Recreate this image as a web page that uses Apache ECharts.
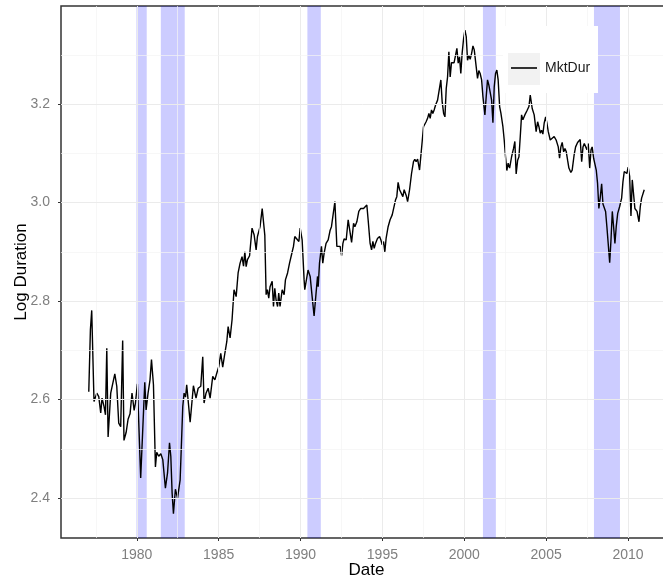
<!DOCTYPE html>
<html>
<head>
<meta charset="utf-8">
<script src="https://cdn.jsdelivr.net/npm/echarts@6/dist/echarts.min.js"></script>
<style>
  html, body { margin: 0; padding: 0; background: #ffffff; }
  #chart { width: 663px; height: 584px; }
</style>
</head>
<body>
<div id="chart"></div>
<script>
// Monthly-ish observations of log market duration (decimal year, value)
const dates = [
  1977.07, 1977.17, 1977.25, 1977.39, 1977.56, 1977.68, 1977.80, 1977.88, 1978.00, 1978.09,
  1978.17, 1978.25, 1978.41, 1978.53, 1978.66, 1978.78, 1978.90, 1979.02, 1979.14, 1979.22,
  1979.35, 1979.47, 1979.59, 1979.71, 1979.84, 1979.92, 1980.04, 1980.24, 1980.32, 1980.49,
  1980.57, 1980.69, 1980.81, 1980.90, 1981.02, 1981.06, 1981.14, 1981.22, 1981.34, 1981.47,
  1981.59, 1981.75, 1981.88, 1982.00, 1982.08, 1982.16, 1982.24, 1982.36, 1982.49, 1982.65,
  1982.81, 1982.89, 1982.98, 1983.05, 1983.26, 1983.46, 1983.62, 1983.75, 1983.83, 1983.91,
  1984.03, 1984.11, 1984.23, 1984.36, 1984.48, 1984.64, 1984.77, 1984.89, 1985.01, 1985.13,
  1985.25, 1985.38, 1985.50, 1985.58, 1985.70, 1985.82, 1985.94, 1986.07, 1986.19, 1986.31,
  1986.43, 1986.52, 1986.60, 1986.68, 1986.76, 1986.89, 1987.04, 1987.17, 1987.29, 1987.37,
  1987.53, 1987.66, 1987.82, 1987.90, 1987.98, 1988.06, 1988.14, 1988.27, 1988.35, 1988.43,
  1988.51, 1988.60, 1988.67, 1988.75, 1988.88, 1989.00, 1989.08, 1989.21, 1989.33, 1989.45,
  1989.57, 1989.65, 1989.77, 1989.90, 1989.98, 1990.10, 1990.22, 1990.26, 1990.46, 1990.59,
  1990.71, 1990.83, 1990.95, 1991.04, 1991.08, 1991.16, 1991.28, 1991.36, 1991.44, 1991.56,
  1991.69, 1991.81, 1991.89, 1991.97, 1992.10, 1992.22, 1992.34, 1992.42, 1992.51, 1992.59,
  1992.66, 1992.79, 1992.91, 1993.03, 1993.12, 1993.24, 1993.32, 1993.44, 1993.56, 1993.68,
  1993.85, 1993.97, 1994.05, 1994.13, 1994.25, 1994.34, 1994.42, 1994.50, 1994.58, 1994.70,
  1994.83, 1994.91, 1994.99, 1995.07, 1995.15, 1995.23, 1995.35, 1995.47, 1995.60, 1995.68,
  1995.80, 1995.88, 1995.96, 1996.05, 1996.17, 1996.25, 1996.33, 1996.45, 1996.54, 1996.66,
  1996.78, 1996.90, 1996.98, 1997.06, 1997.15, 1997.27, 1997.43, 1997.51, 1997.59, 1997.67,
  1997.76, 1997.84, 1997.92, 1998.00, 1998.08, 1998.16, 1998.25, 1998.37, 1998.45, 1998.57,
  1998.65, 1998.74, 1998.82, 1998.90, 1998.98, 1999.06, 1999.14, 1999.22, 1999.30, 1999.38,
  1999.47, 1999.55, 1999.63, 1999.71, 1999.79, 1999.87, 1999.96, 2000.04, 2000.12, 2000.20,
  2000.28, 2000.36, 2000.45, 2000.53, 2000.61, 2000.73, 2000.81, 2000.89, 2000.97, 2001.06,
  2001.14, 2001.26, 2001.34, 2001.42, 2001.50, 2001.58, 2001.67, 2001.75, 2001.83, 2001.91,
  2001.99, 2002.07, 2002.16, 2002.24, 2002.36, 2002.44, 2002.52, 2002.60, 2002.68, 2002.77,
  2002.89, 2003.01, 2003.09, 2003.17, 2003.26, 2003.34, 2003.42, 2003.50, 2003.58, 2003.70,
  2003.82, 2003.95, 2004.03, 2004.07, 2004.15, 2004.27, 2004.39, 2004.48, 2004.56, 2004.64,
  2004.72, 2004.80, 2004.88, 2004.97, 2005.05, 2005.13, 2005.25, 2005.37, 2005.49, 2005.61,
  2005.74, 2005.82, 2005.90, 2005.98, 2006.07, 2006.15, 2006.23, 2006.31, 2006.39, 2006.51,
  2006.59, 2006.71, 2006.80, 2006.92, 2007.00, 2007.08, 2007.17, 2007.25, 2007.33, 2007.41,
  2007.49, 2007.57, 2007.66, 2007.74, 2007.81, 2007.90, 2007.98, 2008.06, 2008.14, 2008.22,
  2008.30, 2008.39, 2008.47, 2008.55, 2008.63, 2008.71, 2008.79, 2008.88, 2008.96, 2009.04,
  2009.12, 2009.20, 2009.28, 2009.37, 2009.49, 2009.61, 2009.69, 2009.77, 2009.86, 2009.93,
  2010.01, 2010.10, 2010.18, 2010.26, 2010.34, 2010.42, 2010.55, 2010.67, 2010.75, 2010.83,
  2010.91, 2010.99
];

const mktDur = [
  2.616, 2.742, 2.781, 2.596, 2.613, 2.606, 2.573, 2.603, 2.586, 2.569,
  2.704, 2.524, 2.613, 2.613, 2.652, 2.627, 2.552, 2.545, 2.720, 2.517,
  2.533, 2.560, 2.571, 2.613, 2.578, 2.593, 2.632, 2.441, 2.444, 2.635,
  2.579, 2.613, 2.640, 2.681, 2.630, 2.633, 2.463, 2.493, 2.485, 2.490,
  2.478, 2.420, 2.451, 2.512, 2.485, 2.410, 2.368, 2.418, 2.400, 2.437,
  2.586, 2.613, 2.605, 2.630, 2.554, 2.628, 2.603, 2.623, 2.620, 2.627,
  2.687, 2.593, 2.613, 2.623, 2.603, 2.647, 2.640, 2.654, 2.667, 2.694,
  2.666, 2.694, 2.718, 2.748, 2.725, 2.762, 2.823, 2.809, 2.857, 2.877,
  2.890, 2.871, 2.900, 2.870, 2.884, 2.892, 2.948, 2.934, 2.904, 2.931,
  2.951, 2.988, 2.934, 2.813, 2.823, 2.806, 2.829, 2.840, 2.789, 2.826,
  2.802, 2.789, 2.816, 2.789, 2.823, 2.813, 2.843, 2.857, 2.877, 2.894,
  2.911, 2.931, 2.928, 2.921, 2.948, 2.924, 2.843, 2.823, 2.863, 2.850,
  2.809, 2.770, 2.816, 2.850, 2.829, 2.877, 2.911, 2.877, 2.897, 2.917,
  2.924, 2.944, 2.951, 2.951, 3.002, 2.911, 2.907, 2.911, 2.892, 2.917,
  2.926, 2.924, 2.965, 2.968, 2.919, 2.958, 2.951, 2.961, 2.982, 2.988,
  2.988, 2.990, 2.995, 2.965, 2.917, 2.904, 2.921, 2.907, 2.917, 2.927,
  2.931, 2.924, 2.914, 2.921, 2.900, 2.928, 2.951, 2.965, 2.975, 2.978,
  3.005, 3.012, 3.041, 3.026, 3.022, 3.012, 3.026, 3.015, 3.002, 3.026,
  3.059, 3.083, 3.088, 3.083, 3.088, 3.066, 3.124, 3.154, 3.151, 3.164,
  3.171, 3.181, 3.171, 3.188, 3.181, 3.188, 3.198, 3.208, 3.208, 3.249,
  3.205, 3.181, 3.174, 3.232, 3.255, 3.306, 3.255, 3.284, 3.286, 3.284,
  3.286, 3.313, 3.283, 3.296, 3.262, 3.303, 3.333, 3.350, 3.337, 3.289,
  3.299, 3.291, 3.303, 3.318, 3.310, 3.306, 3.252, 3.268, 3.262, 3.249,
  3.215, 3.178, 3.215, 3.249, 3.239, 3.235, 3.208, 3.162, 3.235, 3.262,
  3.269, 3.249, 3.195, 3.181, 3.154, 3.127, 3.093, 3.065, 3.080, 3.070,
  3.093, 3.110, 3.124, 3.058, 3.086, 3.093, 3.134, 3.178, 3.168, 3.178,
  3.186, 3.195, 3.218, 3.222, 3.191, 3.178, 3.144, 3.164, 3.154, 3.141,
  3.147, 3.139, 3.161, 3.174, 3.161, 3.144, 3.127, 3.130, 3.134, 3.127,
  3.113, 3.090, 3.113, 3.122, 3.103, 3.110, 3.103, 3.086, 3.070, 3.061,
  3.066, 3.097, 3.113, 3.122, 3.124, 3.128, 3.083, 3.113, 3.120, 3.122,
  3.107, 3.120, 3.070, 3.107, 3.113, 3.090, 3.092, 3.066, 3.039, 2.988,
  3.009, 3.038, 2.997, 2.995, 2.982, 2.951, 2.917, 2.878, 2.924, 2.982,
  2.951, 2.917, 2.951, 2.978, 2.992, 3.009, 3.042, 3.063, 3.065, 3.059,
  3.072, 3.053, 2.973, 3.046, 3.046, 2.988, 2.982, 2.961, 2.992, 3.009,
  3.005, 3.026
];

// NBER recession periods (decimal years)
const recessionStart = [1979.98, 1981.47, 1990.42, 2001.14, 2007.92];
const recessionEnd   = [1980.61, 1982.93, 1991.24, 2001.93, 2009.51];

// Axis breaks
const xMajorTicks = [1980, 1985, 1990, 1995, 2000, 2005, 2010];
const xMinorTicks = [1977.5, 1982.5, 1987.5, 1992.5, 1997.5, 2002.5, 2007.5, 2012.5];
const yMajorTicks = [2.4, 2.6, 2.8, 3.0, 3.2];
const yMinorTicks = [2.5, 2.7, 2.9, 3.1, 3.3];

const seriesName = 'MktDur';
const FONT = '"Liberation Sans", Arial, Helvetica, sans-serif';

// Axis limits padded by 5% of the data range on each side
const xLo = Math.min(...dates), xHi = Math.max(...dates);
const yLo = Math.min(...mktDur), yHi = Math.max(...mktDur);
const xPad = (xHi - xLo) * 0.05, yPad = (yHi - yLo) * 0.05;

const gridLines = [].concat(
  xMajorTicks.map(v => ({ xAxis: v, lineStyle: { color: '#ebebeb', width: 1 } })),
  xMinorTicks.map(v => ({ xAxis: v, lineStyle: { color: '#f3f3f3', width: 0.7 } })),
  yMajorTicks.map(v => ({ yAxis: v, lineStyle: { color: '#ebebeb', width: 1 } })),
  yMinorTicks.map(v => ({ yAxis: v, lineStyle: { color: '#f3f3f3', width: 0.7 } }))
);

const chart = echarts.init(document.getElementById('chart'), null, { renderer: 'canvas' });

chart.setOption({
  animation: false,
  backgroundColor: '#ffffff',
  grid: {
    left: 61, top: 6, width: 611, height: 532,
    outerBoundsMode: 'none',
    containLabel: false,
    show: true,
    borderColor: '#333333',
    borderWidth: 1.5,
    backgroundColor: 'transparent'
  },
  xAxis: {
    type: 'value',
    min: xLo - xPad,
    max: xHi + xPad,
    axisLine: { show: false },
    splitLine: { show: false },
    axisTick: { show: true, length: 3, lineStyle: { color: '#333333' }, customValues: xMajorTicks },
    axisLabel: {
      customValues: xMajorTicks,
      color: '#7f7f7f', fontSize: 14, fontFamily: FONT, margin: 10,
      formatter: v => String(Math.round(v))
    },
    name: 'Date',
    nameLocation: 'middle',
    nameMoveOverlap: false,
    nameGap: 24,
    nameTextStyle: { color: '#000000', fontSize: 17, fontFamily: FONT }
  },
  yAxis: {
    type: 'value',
    min: yLo - yPad,
    max: yHi + yPad,
    axisLine: { show: false },
    splitLine: { show: false },
    axisTick: { show: true, length: 3, lineStyle: { color: '#333333' }, customValues: yMajorTicks },
    axisLabel: {
      customValues: yMajorTicks,
      color: '#7f7f7f', fontSize: 14, fontFamily: FONT, margin: 11,
      formatter: v => v.toFixed(1)
    },
    name: 'Log Duration',
    nameLocation: 'middle',
    nameMoveOverlap: false,
    nameGap: 31,
    nameTextStyle: { color: '#000000', fontSize: 17, fontFamily: FONT }
  },
  legend: {
    data: [seriesName],
    left: 511, top: 61,
    padding: 0,
    icon: 'rect',
    itemWidth: 26, itemHeight: 1.6,
    itemStyle: { color: '#000000', borderWidth: 0 },
    selectedMode: false,
    z: 11,
    textStyle: { color: '#1a1a1a', fontSize: 14, fontFamily: FONT, padding: [0, 0, 0, 3] }
  },
  graphic: [
    { type: 'rect', z: 10, silent: true, shape: { x: 503, y: 26, width: 95, height: 67 }, style: { fill: '#ffffff' } },
    { type: 'rect', z: 10, silent: true, shape: { x: 508, y: 53, width: 32, height: 32 }, style: { fill: '#f2f2f2' } }
  ],
  series: [
    {
      name: 'gridlines',
      type: 'line',
      data: [],
      silent: true,
      z: 0,
      markLine: {
        silent: true,
        symbol: ['none', 'none'],
        label: { show: false },
        emphasis: { disabled: true },
        lineStyle: { type: 'solid' },
        data: gridLines
      }
    },
    {
      name: seriesName,
      type: 'line',
      data: dates.map((d, i) => [d, mktDur[i]]),
      showSymbol: false,
      symbol: 'none',
      z: 1,
      lineStyle: { color: '#000000', width: 1.4 },
      itemStyle: { color: '#000000' },
      emphasis: { disabled: true }
    },
    {
      name: 'recessions',
      type: 'line',
      data: [],
      silent: true,
      z: 2,
      markArea: {
        silent: true,
        itemStyle: { color: 'rgba(0, 0, 255, 0.2)' },
        emphasis: { disabled: true },
        data: recessionStart.map((s, i) => [{ xAxis: s }, { xAxis: recessionEnd[i] }])
      }
    }
  ]
});
</script>
</body>
</html>
